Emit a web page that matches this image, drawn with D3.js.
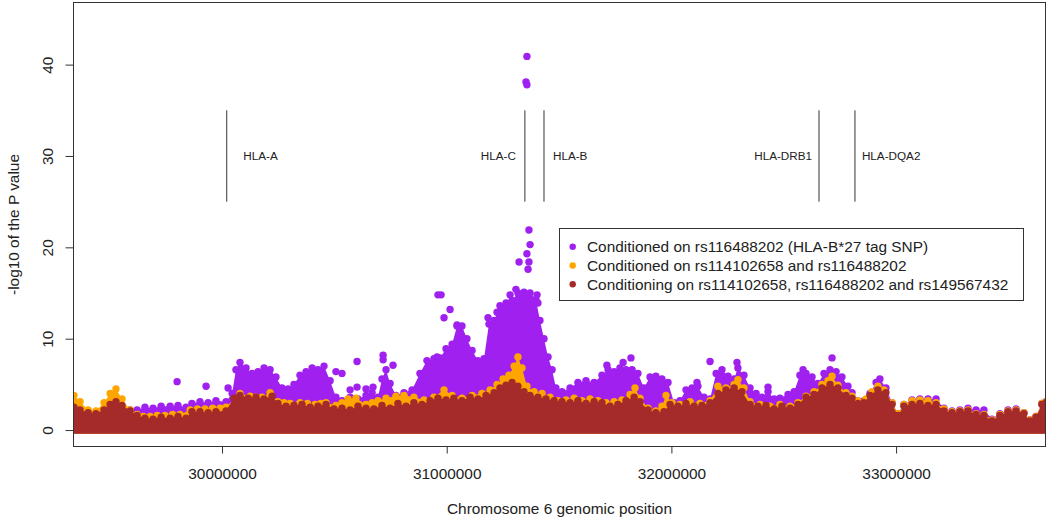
<!DOCTYPE html>
<html><head><meta charset="utf-8">
<script src="https://cdn.jsdelivr.net/npm/d3@7"></script>
<style>body{margin:0;background:#fff} text{font-family:"Liberation Sans",Arial,Helvetica,sans-serif}</style>
</head><body><svg id="c" width="1050" height="517"></svg>
<script>
// ---- DATA (positions in Mb on chromosome 6, values = -log10 P) ----
const seriesNames = ["Conditioned on rs116488202 (HLA-B*27 tag SNP)",
  "Conditioned on rs114102658 and rs116488202",
  "Conditioning on rs114102658, rs116488202 and rs149567432"];
const seriesColors = ["#A020F0", "#FFA500", "#A52A2A"];

// upper edge of the dense SNP cloud (SNP centres), purple series
const purpleTop = [[29.341,2.5],[29.400,2.1],[29.457,1.9],[29.520,2.0],[29.591,2.2],[29.622,2.2],[29.657,2.5],[29.693,2.4],[29.729,2.6],[29.769,2.6],[29.804,2.7],[29.840,2.5],[29.866,2.9],[29.902,3.1],[29.938,3.0],[29.973,3.2],[30.018,3.1],[30.045,4.0],[30.062,6.6],[30.080,7.4],[30.107,6.8],[30.134,6.2],[30.160,6.4],[30.187,6.8],[30.214,6.6],[30.240,5.8],[30.267,4.6],[30.294,4.5],[30.320,5.0],[30.347,6.0],[30.374,6.4],[30.401,6.8],[30.427,6.6],[30.454,7.0],[30.481,5.4],[30.507,3.6],[30.534,3.2],[30.570,3.6],[30.605,3.4],[30.641,3.8],[30.668,4.1],[30.694,3.6],[30.712,5.6],[30.730,6.6],[30.748,5.1],[30.774,3.8],[30.810,4.1],[30.846,4.4],[30.881,6.2],[30.912,7.6],[30.943,7.8],[30.970,7.9],[30.997,8.9],[31.024,9.4],[31.046,11.4],[31.068,11.4],[31.090,10.0],[31.113,8.7],[31.139,7.6],[31.166,7.8],[31.188,11.6],[31.211,12.0],[31.237,13.6],[31.264,13.9],[31.291,14.2],[31.317,15.0],[31.344,15.1],[31.371,15.0],[31.397,14.3],[31.415,12.0],[31.433,10.0],[31.451,8.0],[31.469,6.6],[31.486,4.6],[31.513,4.2],[31.549,4.6],[31.584,5.2],[31.620,5.4],[31.656,5.2],[31.691,6.0],[31.718,6.6],[31.745,6.4],[31.771,6.8],[31.798,6.6],[31.825,6.6],[31.851,6.2],[31.878,4.6],[31.905,5.8],[31.931,5.9],[31.958,5.6],[31.985,5.2],[32.012,3.0],[32.038,3.2],[32.065,4.4],[32.092,4.6],[32.118,4.8],[32.145,3.6],[32.172,3.4],[32.199,6.2],[32.225,6.6],[32.252,5.9],[32.279,5.6],[32.296,6.8],[32.323,6.0],[32.350,4.6],[32.377,4.0],[32.403,3.6],[32.430,4.2],[32.457,3.4],[32.483,3.5],[32.519,3.9],[32.546,4.2],[32.572,6.0],[32.599,6.2],[32.626,5.8],[32.652,5.1],[32.679,6.2],[32.706,6.6],[32.733,6.4],[32.759,5.8],[32.786,4.8],[32.804,4.1],[32.830,3.2],[32.857,3.2],[32.884,4.0],[32.911,5.2],[32.928,5.6],[32.955,4.6],[32.982,3.0],[33.008,1.8],[33.035,2.8],[33.071,3.3],[33.106,3.4],[33.142,3.4],[33.178,3.4],[33.213,2.4],[33.249,2.1],[33.284,2.2],[33.320,2.4],[33.356,2.2],[33.391,2.2],[33.427,1.2],[33.462,1.8],[33.498,2.2],[33.534,2.3],[33.569,1.9],[33.596,1.1],[33.623,1.5],[33.649,2.9],[33.667,3.1]];

// isolated purple SNPs above the cloud
const purpleSnps = [[29.800,5.3],[29.929,4.8],[30.027,4.6],[30.601,7.5],[30.507,6.4],[30.534,6.2],[30.717,8.2],[30.717,7.7],[30.761,7.1],[30.570,4.4],[30.601,4.7],[30.641,4.5],[30.672,4.7],[30.961,14.8],[30.975,14.8],[31.015,13.2],[30.988,12.3],[31.046,11.5],[30.957,8.0],[31.357,40.9],[31.353,38.1],[31.357,37.8],[31.366,21.9],[31.371,20.3],[31.357,19.3],[31.322,18.4],[31.366,18.4],[31.362,17.6],[31.308,15.4],[31.402,14.8],[31.406,13.9],[31.282,14.8],[31.224,12.9],[31.184,12.3],[31.785,7.4],[31.820,7.9],[31.713,7.1],[32.172,7.5],[32.292,7.4],[32.586,6.6],[32.715,7.9],[32.430,4.7],[32.114,5.2],[31.936,4.9],[31.869,4.2]];

// upper edge of the cloud, orange series
const orangeTop = [[29.341,3.8],[29.368,3.1],[29.404,2.2],[29.439,2.1],[29.475,3.0],[29.502,4.0],[29.528,4.5],[29.555,3.4],[29.591,2.2],[29.622,1.7],[29.650,1.5],[29.680,1.5],[29.712,1.6],[29.746,1.6],[29.780,1.7],[29.813,1.7],[29.858,2.2],[29.890,2.3],[29.924,2.3],[29.958,2.4],[29.991,2.4],[30.018,2.5],[30.045,2.6],[30.080,4.0],[30.125,3.7],[30.150,3.6],[30.178,3.6],[30.214,4.1],[30.249,3.1],[30.276,3.0],[30.303,2.9],[30.347,3.0],[30.380,2.9],[30.414,2.8],[30.440,2.9],[30.463,3.0],[30.507,2.7],[30.534,3.0],[30.561,3.4],[30.596,3.5],[30.641,2.8],[30.668,3.0],[30.694,3.2],[30.730,3.5],[30.774,3.7],[30.810,3.8],[30.854,3.6],[30.899,3.3],[30.943,3.6],[30.988,4.4],[31.024,3.8],[31.068,3.5],[31.113,3.8],[31.157,4.0],[31.193,4.4],[31.224,5.0],[31.251,5.6],[31.277,6.0],[31.300,7.0],[31.317,8.0],[31.335,6.8],[31.357,4.8],[31.389,4.2],[31.424,4.0],[31.460,3.6],[31.495,3.2],[31.531,3.3],[31.567,3.5],[31.602,3.2],[31.638,3.4],[31.673,3.2],[31.709,3.0],[31.745,3.1],[31.780,3.3],[31.816,3.9],[31.838,4.6],[31.860,3.5],[31.896,2.4],[31.931,2.1],[31.958,2.6],[31.976,3.8],[32.003,3.0],[32.038,2.8],[32.083,3.1],[32.127,2.9],[32.172,3.2],[32.207,4.8],[32.243,4.6],[32.279,5.0],[32.296,5.5],[32.323,4.6],[32.350,3.1],[32.394,2.8],[32.439,2.6],[32.483,2.8],[32.528,2.6],[32.563,3.0],[32.599,3.7],[32.635,4.2],[32.670,5.0],[32.697,5.4],[32.715,5.9],[32.741,4.9],[32.777,4.1],[32.804,3.7],[32.830,3.2],[32.866,3.4],[32.893,4.2],[32.919,4.8],[32.946,4.4],[32.982,3.0],[33.008,1.8],[33.035,2.8],[33.071,3.2],[33.106,3.3],[33.142,3.2],[33.178,3.0],[33.213,2.3],[33.249,2.0],[33.284,2.1],[33.320,2.2],[33.356,1.8],[33.391,1.7],[33.427,1.1],[33.462,1.7],[33.498,2.1],[33.534,2.2],[33.569,1.9],[33.596,1.1],[33.623,1.5],[33.649,2.9],[33.667,3.1]];

// upper edge of the cloud, brown series
const brownTop = [[29.341,2.5],[29.368,2.2],[29.404,1.9],[29.439,1.8],[29.475,2.2],[29.502,2.8],[29.528,3.1],[29.555,2.7],[29.591,2.1],[29.622,1.6],[29.657,1.3],[29.693,1.2],[29.729,1.4],[29.769,1.3],[29.804,1.5],[29.840,1.3],[29.866,2.0],[29.902,2.0],[29.938,1.9],[29.973,2.0],[30.018,2.1],[30.053,3.5],[30.080,3.8],[30.116,3.5],[30.151,3.6],[30.187,3.4],[30.223,3.7],[30.249,2.9],[30.285,2.6],[30.320,2.7],[30.356,2.8],[30.392,2.5],[30.427,2.6],[30.463,2.8],[30.498,2.3],[30.534,2.4],[30.570,2.2],[30.605,2.6],[30.641,2.4],[30.676,2.3],[30.712,2.7],[30.748,2.4],[30.783,2.9],[30.819,2.6],[30.854,3.0],[30.890,2.8],[30.926,3.2],[30.961,3.5],[30.997,3.3],[31.032,3.5],[31.068,3.2],[31.104,3.6],[31.139,3.4],[31.175,3.8],[31.211,4.1],[31.237,4.6],[31.264,4.9],[31.291,5.2],[31.317,4.8],[31.344,4.2],[31.371,3.8],[31.406,3.6],[31.442,3.4],[31.478,3.2],[31.513,3.1],[31.549,3.0],[31.584,3.2],[31.620,2.9],[31.656,3.1],[31.691,3.0],[31.727,2.6],[31.762,2.8],[31.798,3.2],[31.834,3.6],[31.860,3.1],[31.896,2.2],[31.931,1.9],[31.967,2.0],[31.994,2.8],[32.029,2.6],[32.065,2.9],[32.101,2.6],[32.136,2.7],[32.172,3.0],[32.207,4.0],[32.243,4.4],[32.279,4.6],[32.314,4.2],[32.350,2.8],[32.385,2.6],[32.421,2.7],[32.457,2.3],[32.492,2.6],[32.528,2.4],[32.563,2.8],[32.599,3.6],[32.635,3.9],[32.670,4.6],[32.706,5.0],[32.741,4.6],[32.777,3.8],[32.804,3.5],[32.830,2.9],[32.857,3.0],[32.884,3.8],[32.919,4.4],[32.955,4.1],[32.982,2.8],[33.008,1.6],[33.035,2.6],[33.071,2.8],[33.106,2.9],[33.142,2.7],[33.178,2.8],[33.213,2.1],[33.249,1.9],[33.284,2.0],[33.320,2.1],[33.356,1.7],[33.391,1.6],[33.427,1.0],[33.462,1.6],[33.498,2.0],[33.534,2.1],[33.569,1.8],[33.596,1.0],[33.623,1.4],[33.649,2.8],[33.667,3.0]];

const xTicks = [30000000, 31000000, 32000000, 33000000];
const yTicks = [0, 10, 20, 30, 40];
const geneNames = ["HLA-A", "HLA-C", "HLA-B", "HLA-DRB1", "HLA-DQA2"];
const genePos = [30.021, 31.348, 31.433, 32.657, 32.817];
const geneLabelPos = [30.095, 31.308, 31.473, 32.626, 32.848];
const geneLabelSide = ["start", "end", "start", "end", "start"];
const geneSpan = [25, 35];
const geneLabelY = 30;

// ---- DRAWING ----
const svg = d3.select("#c");
const L = 73.5, R = 1045.5, T = 2.5, B = 446.5;
const x = d3.scaleLinear().domain([29339000, 33665000]).range([L, R]);
const y = d3.scaleLinear().domain([-1.8, 46.8]).range([B, T]);
const rad = 3.7;
const fs = "15.4px";

svg.append("defs").append("clipPath").attr("id", "plotclip")
  .append("rect").attr("x", L).attr("y", T).attr("width", R - L).attr("height", B - T);
const plot = svg.append("g").attr("clip-path", "url(#plotclip)");

// body of the SNP cloud: area under the top edge, extended by one dot radius below zero
const area = d3.area().x(d => x(d[0] * 1e6)).y0(y(0) + rad).y1(d => y(d[1]));
function drawCloud(top, color) {
  const g = plot.append("g");
  g.append("path").datum(top).attr("d", area).attr("fill", color);
  g.selectAll("circle").data(top).join("circle")
    .attr("cx", d => x(d[0] * 1e6)).attr("cy", d => y(d[1])).attr("r", rad).attr("fill", color);
  return g;
}
const gp = drawCloud(purpleTop, seriesColors[0]);
gp.selectAll("circle.snp").data(purpleSnps).join("circle").attr("class", "snp")
  .attr("cx", d => x(d[0] * 1e6)).attr("cy", d => y(d[1])).attr("r", rad).attr("fill", seriesColors[0]);
drawCloud(orangeTop, seriesColors[1]);
drawCloud(brownTop, seriesColors[2]);

// gene markers
const gg = svg.append("g");
geneNames.forEach((n, i) => {
  gg.append("line").attr("x1", x(genePos[i] * 1e6)).attr("x2", x(genePos[i] * 1e6))
    .attr("y1", y(geneSpan[0])).attr("y2", y(geneSpan[1]))
    .attr("stroke", "#333").attr("stroke-width", 1);
  gg.append("text").attr("x", x(geneLabelPos[i] * 1e6)).attr("y", y(geneLabelY))
    .attr("dy", "0.35em").attr("text-anchor", geneLabelSide[i])
    .attr("font-size", "11.7px").attr("fill", "#222").text(n);
});

// box
svg.append("rect").attr("x", L).attr("y", T).attr("width", R - L).attr("height", B - T)
  .attr("fill", "none").attr("stroke", "#333").attr("stroke-width", 1);

// x axis
const xa = svg.append("g").attr("transform", `translate(0,${B})`)
  .call(d3.axisBottom(x).tickValues(xTicks).tickFormat(d3.format("d")).tickSize(7).tickPadding(15));
xa.select(".domain").remove();
xa.append("line").attr("x1", x(xTicks[0])).attr("x2", x(xTicks[xTicks.length - 1])).attr("stroke", "#333");
xa.selectAll(".tick line").attr("stroke", "#333");
xa.selectAll("text").attr("font-size", fs).attr("fill", "#222").style("font-family", "Liberation Sans, Arial, sans-serif");

// y axis
const ya = svg.append("g").attr("transform", `translate(${L},0)`)
  .call(d3.axisLeft(y).tickValues(yTicks).tickSize(8));
ya.select(".domain").remove();
ya.append("line").attr("y1", y(yTicks[0])).attr("y2", y(yTicks[yTicks.length - 1])).attr("stroke", "#333");
ya.selectAll(".tick line").attr("stroke", "#333");
ya.selectAll("text").attr("transform", "rotate(-90)").attr("x", 0).attr("y", -20.5).attr("dy", 0)
  .attr("text-anchor", "middle").attr("font-size", fs).attr("fill", "#222")
  .style("font-family", "Liberation Sans, Arial, sans-serif");

// axis titles
svg.append("text").attr("x", (L + R) / 2).attr("y", 514).attr("text-anchor", "middle")
  .attr("font-size", fs).attr("fill", "#222").text("Chromosome 6 genomic position");
svg.append("text").attr("transform", `translate(19,${(T + B) / 2}) rotate(-90)`)
  .attr("text-anchor", "middle").attr("font-size", fs).attr("fill", "#222").text("-log10 of the P value");

// legend
const lg = svg.append("g");
lg.append("rect").attr("x", 559.5).attr("y", 228.5).attr("width", 464).attr("height", 72)
  .attr("fill", "#fff").attr("stroke", "#333");
seriesNames.forEach((n, i) => {
  const cy = 246.7 + i * 18.8;
  lg.append("circle").attr("cx", 572.7).attr("cy", cy).attr("r", 3.2).attr("fill", seriesColors[i]);
  lg.append("text").attr("x", 587).attr("y", cy).attr("dy", "0.35em")
    .attr("font-size", fs).attr("fill", "#222").text(n);
});
</script></body></html>
